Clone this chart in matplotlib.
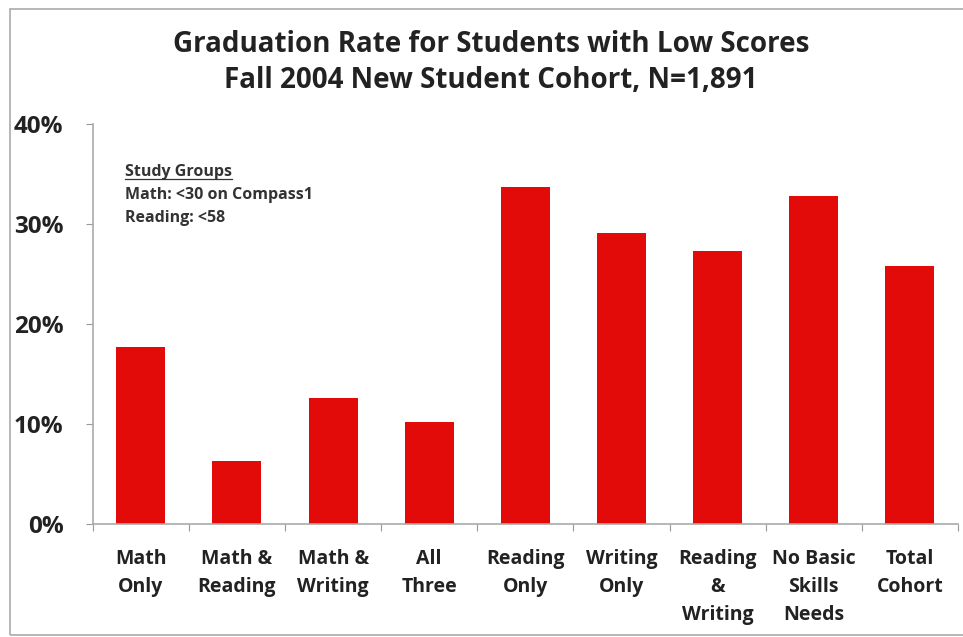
import matplotlib.pyplot as plt
from matplotlib.patches import Rectangle
from matplotlib.ticker import PercentFormatter
import numpy as np

#graduation rates
categories = ['Math\nOnly', 'Math &\nReading', 'Math &\nWriting', 'All\nThree',
              'Reading\nOnly', 'Writing\nOnly', 'Reading\n&\nWriting',
              'No Basic\nSkills\nNeeds', 'Total\nCohort']
grad_rate = [0.177, 0.063, 0.126, 0.102, 0.337, 0.291, 0.273, 0.328, 0.258]
y_ticks = [0.0, 0.1, 0.2, 0.3, 0.4]

title_lines = ['Graduation Rate for Students with Low Scores',
               'Fall 2004 New Student Cohort, N=1,891']
note_head = 'Study Groups'
note_lines = ['Math: <30 on Compass1', 'Reading: <58']

plt.rcParams['font.family'] = ['Open Sans', 'DejaVu Sans']

fig = plt.figure(figsize=(9.63, 6.37), dpi=100)
ax = fig.add_axes([0.0963, 0.1774, 0.8985, 0.6279])

x = np.arange(len(categories))
ax.bar(x, grad_rate, width=0.51, color='#E30A0A')

ax.set_xlim(-0.5, len(categories) - 0.5)
ax.set_ylim(0, 0.4)
ax.set_yticks(y_ticks)
ax.yaxis.set_major_formatter(PercentFormatter(1.0, decimals=0))

#x ticks sit between categories, labels in the middle
ax.set_xticks(np.arange(len(categories) + 1) - 0.5)
ax.set_xticklabels([])
ax.set_xticks(x, minor=True)
ax.set_xticklabels(categories, minor=True, fontsize=14, fontweight='bold',
                   color='#222222', linespacing=1.55, va='top')
ax.tick_params(axis='x', which='minor', length=0, pad=18)
ax.tick_params(axis='x', which='major', length=5, color='#999999', direction='out')
ax.tick_params(axis='y', length=5, color='#999999', direction='out', pad=16,
               labelsize=17.5)
for lab in ax.get_yticklabels():
    lab.set_fontweight('bold')
    lab.set_color('#222222')

for side in ['top', 'right']:
    ax.spines[side].set_visible(False)
for side in ['left', 'bottom']:
    ax.spines[side].set_color('#aaaaaa')
    ax.spines[side].set_linewidth(1.2)

fig.text(0.51, 1 - 45 / 637, title_lines[0], ha='center', va='center',
         fontsize=20, fontweight='bold', color='#222222')
fig.text(0.51, 1 - 80 / 637, title_lines[1], ha='center', va='center',
         fontsize=20, fontweight='bold', color='#222222')

#study group note in the upper left of the plot
head = fig.text(125 / 963, 1 - 172 / 637, note_head, ha='left', va='center',
                fontsize=11.5, fontweight='bold', color='#333333')
fig.canvas.draw()
bb = head.get_window_extent().transformed(fig.transFigure.inverted())
fig.add_artist(plt.Line2D([bb.x0, bb.x1], [bb.y0 + 0.002, bb.y0 + 0.002],
                          color='#333333', linewidth=0.9))
fig.text(125 / 963, 1 - 195 / 637, note_lines[0], ha='left', va='center',
         fontsize=11.5, fontweight='bold', color='#333333')
fig.text(125 / 963, 1 - 218 / 637, note_lines[1], ha='left', va='center',
         fontsize=11.5, fontweight='bold', color='#333333')

#grey frame around the chart
fig.add_artist(Rectangle((10 / 963, 1 - 635 / 637), 1.0, 626 / 637,
                         transform=fig.transFigure, fill=False,
                         edgecolor='#aaaaaa', linewidth=1.2))

fig.savefig('out.png', dpi=100)
